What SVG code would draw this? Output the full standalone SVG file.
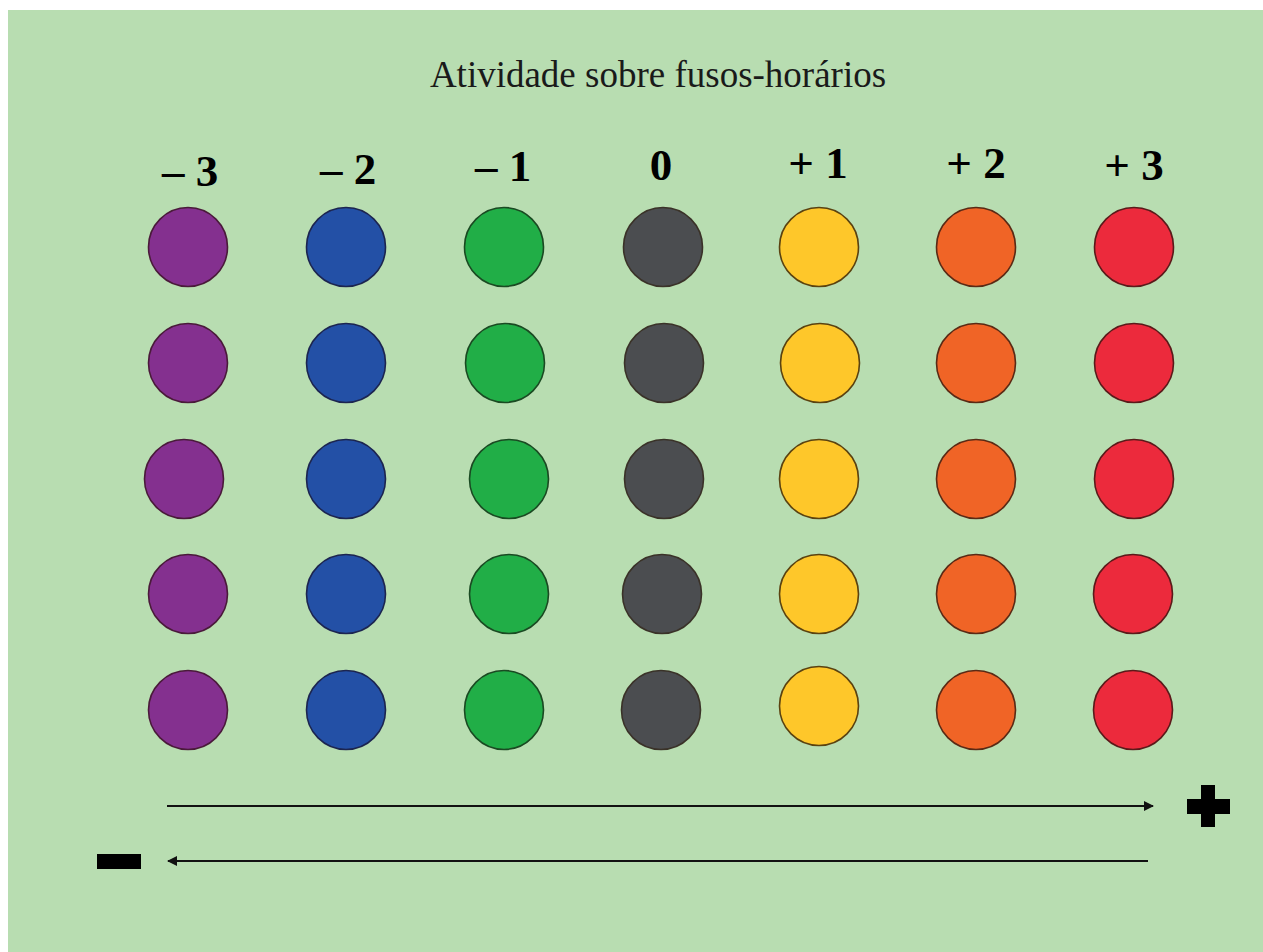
<svg xmlns="http://www.w3.org/2000/svg" width="1263" height="952" viewBox="0 0 1263 952">
  <style>
    .title { font-family: "Liberation Serif", "Times New Roman", serif; font-size: 37px; fill: #1a1a1a; }
    .lbl { font-family: "Liberation Serif", "Times New Roman", serif; font-size: 45px; font-weight: bold; fill: #000; text-anchor: middle; }
    .c { stroke-width: 1.6; }
    .purple { fill: #84308F; stroke: #4a1a3a; }
    .blue { fill: #2350A6; stroke: #1c2550; }
    .green { fill: #21AE47; stroke: #1a4a22; }
    .gray { fill: #4B4D50; stroke: #3a3228; }
    .yellow { fill: #FEC72A; stroke: #5a4210; }
    .orange { fill: #F06426; stroke: #5a2a15; }
    .red { fill: #EC2A3C; stroke: #5a1a1a; }
    .arrow { stroke: #111; stroke-width: 2; fill: none; }
  </style>
  <defs>
    <marker id="ah" viewBox="0 0 10 10" refX="9" refY="5" markerWidth="5" markerHeight="5" orient="auto-start-reverse" markerUnits="strokeWidth">
      <path d="M0,0 L10,5 L0,10 z" fill="#111"/>
    </marker>
  </defs>
  <rect x="0" y="0" width="1263" height="952" fill="#ffffff"/>
  <rect x="8" y="10" width="1255" height="942" fill="#B8DDB1"/>

  <text id="title" class="title" x="658" y="87" text-anchor="middle">Atividade sobre fusos-horários</text>

  <g id="labels">
    <text class="lbl" x="190" y="186">– 3</text>
    <text class="lbl" x="348" y="184">– 2</text>
    <text class="lbl" x="503" y="181">– 1</text>
    <text class="lbl" x="661" y="180">0</text>
    <text class="lbl" x="818" y="178">+ 1</text>
    <text class="lbl" x="976" y="178">+ 2</text>
    <text class="lbl" x="1134" y="180">+ 3</text>
  </g>

  <g id="col-m3">
    <circle class="c purple" cx="188" cy="247" r="39.5"/>
    <circle class="c purple" cx="188" cy="363" r="39.5"/>
    <circle class="c purple" cx="184" cy="479" r="39.5"/>
    <circle class="c purple" cx="188" cy="594" r="39.5"/>
    <circle class="c purple" cx="188" cy="710" r="39.5"/>
  </g>
  <g id="col-m2">
    <circle class="c blue" cx="346" cy="247" r="39.5"/>
    <circle class="c blue" cx="346" cy="363" r="39.5"/>
    <circle class="c blue" cx="346" cy="479" r="39.5"/>
    <circle class="c blue" cx="346" cy="594" r="39.5"/>
    <circle class="c blue" cx="346" cy="710" r="39.5"/>
  </g>
  <g id="col-m1">
    <circle class="c green" cx="504" cy="247" r="39.5"/>
    <circle class="c green" cx="505" cy="363" r="39.5"/>
    <circle class="c green" cx="509" cy="479" r="39.5"/>
    <circle class="c green" cx="509" cy="594" r="39.5"/>
    <circle class="c green" cx="504" cy="710" r="39.5"/>
  </g>
  <g id="col-0">
    <circle class="c gray" cx="663" cy="247" r="39.5"/>
    <circle class="c gray" cx="664" cy="363" r="39.5"/>
    <circle class="c gray" cx="664" cy="479" r="39.5"/>
    <circle class="c gray" cx="662" cy="594" r="39.5"/>
    <circle class="c gray" cx="661" cy="710" r="39.5"/>
  </g>
  <g id="col-p1">
    <circle class="c yellow" cx="819" cy="247" r="39.5"/>
    <circle class="c yellow" cx="820" cy="363" r="39.5"/>
    <circle class="c yellow" cx="819" cy="479" r="39.5"/>
    <circle class="c yellow" cx="819" cy="594" r="39.5"/>
    <circle class="c yellow" cx="819" cy="706" r="39.5"/>
  </g>
  <g id="col-p2">
    <circle class="c orange" cx="976" cy="247" r="39.5"/>
    <circle class="c orange" cx="976" cy="363" r="39.5"/>
    <circle class="c orange" cx="976" cy="479" r="39.5"/>
    <circle class="c orange" cx="976" cy="594" r="39.5"/>
    <circle class="c orange" cx="976" cy="710" r="39.5"/>
  </g>
  <g id="col-p3">
    <circle class="c red" cx="1134" cy="247" r="39.5"/>
    <circle class="c red" cx="1134" cy="363" r="39.5"/>
    <circle class="c red" cx="1134" cy="479" r="39.5"/>
    <circle class="c red" cx="1133" cy="594" r="39.5"/>
    <circle class="c red" cx="1133" cy="710" r="39.5"/>
  </g>

  <g id="connectors">
    <line class="arrow" x1="167" y1="806" x2="1153" y2="806" marker-end="url(#ah)"/>
    <line class="arrow" x1="1148" y1="861" x2="168" y2="861" marker-end="url(#ah)"/>
  </g>

  <g id="plus">
    <rect x="1187" y="799" width="43" height="15" fill="#000"/>
    <rect x="1201" y="785" width="14" height="42" fill="#000"/>
  </g>
  <g id="minus">
    <rect x="97" y="854" width="44" height="15" fill="#000"/>
  </g>
</svg>
